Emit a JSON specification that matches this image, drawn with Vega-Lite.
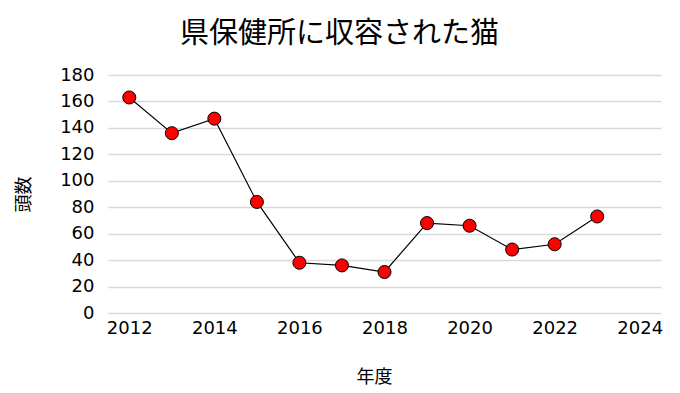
{
  "$schema": "https://vega.github.io/schema/vega-lite/v6.json",
  "autosize": {"type": "none"},
  "width": 553,
  "height": 238,
  "padding": {"left": 108, "top": 75, "right": 19, "bottom": 80},
  "background": "white",
  "title": {
    "text": "県保健所に収容された猫",
    "font": "Noto Sans CJK JP",
    "fontSize": 29,
    "fontWeight": "normal",
    "color": "#000000",
    "anchor": "middle",
    "dx": -45,
    "offset": 17
  },
  "config": {
    "view": {"stroke": null},
    "font": "Noto Sans CJK JP"
  },
  "data": {
    "values": [
      {"year": 2012, "count": 163},
      {"year": 2013, "count": 136},
      {"year": 2014, "count": 147},
      {"year": 2015, "count": 84},
      {"year": 2016, "count": 38},
      {"year": 2017, "count": 36},
      {"year": 2018, "count": 31},
      {"year": 2019, "count": 68},
      {"year": 2020, "count": 66},
      {"year": 2021, "count": 48},
      {"year": 2022, "count": 52},
      {"year": 2023, "count": 73}
    ]
  },
  "encoding": {
    "x": {
      "field": "year",
      "type": "quantitative",
      "scale": {"domain": [2011.5, 2024.5], "nice": false, "zero": false},
      "axis": {
        "title": "年度",
        "values": [2012, 2014, 2016, 2018, 2020, 2022, 2024],
        "format": "d",
        "grid": false,
        "domain": false,
        "ticks": false,
        "labelFontSize": 18,
        "labelColor": "#000000",
        "labelFont": "DejaVu Sans",
        "labelPadding": 6,
        "titleFontSize": 18,
        "titleFontWeight": "normal",
        "titleColor": "#000000",
        "titleFont": "Noto Sans CJK JP",
        "titlePadding": 31,
        "titleX": 266
      }
    },
    "y": {
      "field": "count",
      "type": "quantitative",
      "scale": {"domain": [0, 180], "nice": false},
      "axis": {
        "title": "頭数",
        "values": [0, 20, 40, 60, 80, 100, 120, 140, 160, 180],
        "grid": true,
        "gridColor": "#d9d9d9",
        "gridWidth": 1.5,
        "domain": false,
        "ticks": false,
        "labelFontSize": 18,
        "labelColor": "#000000",
        "labelFont": "DejaVu Sans",
        "labelPadding": 14,
        "titleFontSize": 18,
        "titleFontWeight": "normal",
        "titleColor": "#000000",
        "titleFont": "Noto Sans CJK JP",
        "titlePadding": 26
      }
    }
  },
  "layer": [
    {"mark": {"type": "line", "color": "#000000", "strokeWidth": 1.2}},
    {"mark": {"type": "point", "filled": true, "fill": "#ff0000", "stroke": "#000000", "strokeWidth": 1, "size": 170, "opacity": 1}}
  ]
}
